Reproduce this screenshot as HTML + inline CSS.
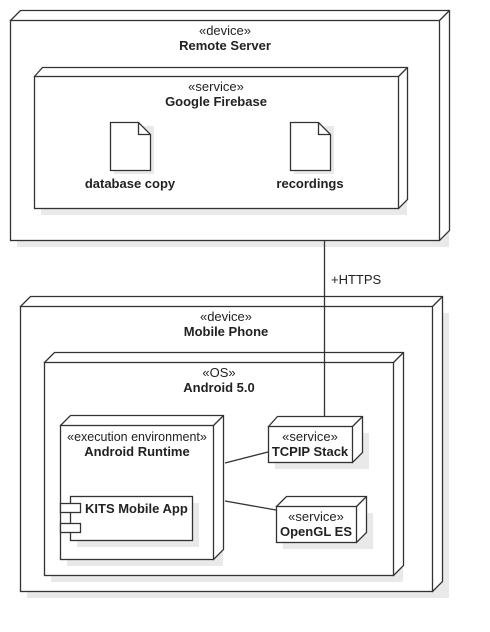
<!DOCTYPE html>
<html><head><style>body{margin:0;background:#fff}svg{display:block}text{font-family:"Liberation Sans",sans-serif;font-size:13px;fill:#222}.b{font-weight:bold}</style></head><body>
<svg width="490" height="632" viewBox="0 0 490 632" xmlns="http://www.w3.org/2000/svg">
<g fill="#fff" stroke="#333" stroke-width="1.3">
<g fill="#e9e9e9" stroke="none">
<rect x="17" y="27" width="432" height="220"/>
<rect x="27" y="313" width="422" height="285"/>
</g>
<path d="M10.5 20.5 L20.5 10.5 L449.5 10.5 L449.5 230.5 L439.5 240.5 Z"/>
<path d="M439.5 20.5 L449.5 10.5" fill="none"/>
<rect x="10.5" y="20.5" width="429" height="220"/>
<rect x="41" y="83" width="366" height="132" fill="#e9e9e9" stroke="none"/>
<path d="M34.5 76.5 L42.5 67.5 L407.5 67.5 L407.5 199.5 L398.5 208.5 Z"/>
<path d="M398.5 76.5 L407.5 67.5" fill="none"/>
<rect x="34.5" y="76.5" width="364" height="132"/>
<rect x="114" y="126" width="40" height="48" fill="#e9e9e9" stroke="none"/>
<path d="M110.5 122.5 L138.5 122.5 L150.5 134.5 L150.5 170.5 L110.5 170.5 Z"/>
<path d="M138.5 122.5 L138.5 134.5 L150.5 134.5" fill="none"/>
<rect x="294" y="126" width="40" height="48" fill="#e9e9e9" stroke="none"/>
<path d="M290.5 122.5 L318.5 122.5 L330.5 134.5 L330.5 170.5 L290.5 170.5 Z"/>
<path d="M318.5 122.5 L318.5 134.5 L330.5 134.5" fill="none"/>
<path d="M20.5 306.5 L30.5 296.5 L442.5 296.5 L442.5 581.5 L432.5 591.5 Z"/>
<path d="M432.5 306.5 L442.5 296.5" fill="none"/>
<rect x="20.5" y="306.5" width="412" height="285"/>
<rect x="51" y="369" width="352" height="213" fill="#e9e9e9" stroke="none"/>
<path d="M44.5 362.5 L54.5 352.5 L403.5 352.5 L403.5 565.5 L393.5 575.5 Z"/>
<path d="M393.5 362.5 L403.5 352.5" fill="none"/>
<rect x="44.5" y="362.5" width="349" height="213"/>
<rect x="67" y="432" width="156" height="134" fill="#e9e9e9" stroke="none"/>
<path d="M60.5 425.5 L70.5 415.5 L223.5 415.5 L223.5 549.5 L213.5 559.5 Z"/>
<path d="M213.5 425.5 L223.5 415.5" fill="none"/>
<rect x="60.5" y="425.5" width="153" height="134"/>
<rect x="77" y="503" width="122" height="44" fill="#e9e9e9" stroke="none"/>
<rect x="70.5" y="496.5" width="122" height="44"/>
<rect x="60.5" y="503.5" width="20" height="9"/>
<rect x="60.5" y="523.5" width="20" height="9"/>
<rect x="275" y="433" width="94" height="36" fill="#e9e9e9" stroke="none"/>
<path d="M268.5 426.5 L277.5 416.5 L362.5 416.5 L362.5 452.5 L352.5 462.5 Z"/>
<path d="M352.5 426.5 L362.5 416.5" fill="none"/>
<rect x="268.5" y="426.5" width="84" height="36"/>
<rect x="283" y="513" width="90" height="36" fill="#e9e9e9" stroke="none"/>
<path d="M276.5 506.5 L286.5 496.5 L366.5 496.5 L366.5 532.5 L356.5 542.5 Z"/>
<path d="M356.5 506.5 L366.5 496.5" fill="none"/>
<rect x="276.5" y="506.5" width="80" height="36"/>
<path d="M324.5 241 L324.5 416.5 M225 463 L268 452 M225 501 L276 510" fill="none"/>
</g>
<g text-anchor="middle">
<text x="225" y="35">«device»</text>
<text x="225" y="50" class="b">Remote Server</text>
<text x="216" y="91">«service»</text>
<text x="216" y="106" class="b">Google Firebase</text>
<text x="130" y="188" class="b">database copy</text>
<text x="310" y="188" class="b">recordings</text>
<text x="226" y="321">«device»</text>
<text x="226" y="336" class="b">Mobile Phone</text>
<text x="219" y="377">«OS»</text>
<text x="219" y="392" class="b">Android 5.0</text>
<text x="137" y="441" style="font-size:12.5px">«execution environment»</text>
<text x="137" y="456" class="b">Android Runtime</text>
<text x="310" y="441">«service»</text>
<text x="310" y="456" class="b">TCPIP Stack</text>
<text x="316" y="521">«service»</text>
<text x="316" y="536" class="b">OpenGL ES</text>
</g>
<text x="85" y="513" class="b">KITS Mobile App</text>
<text x="331" y="284">+HTTPS</text>
</svg>
</body></html>
